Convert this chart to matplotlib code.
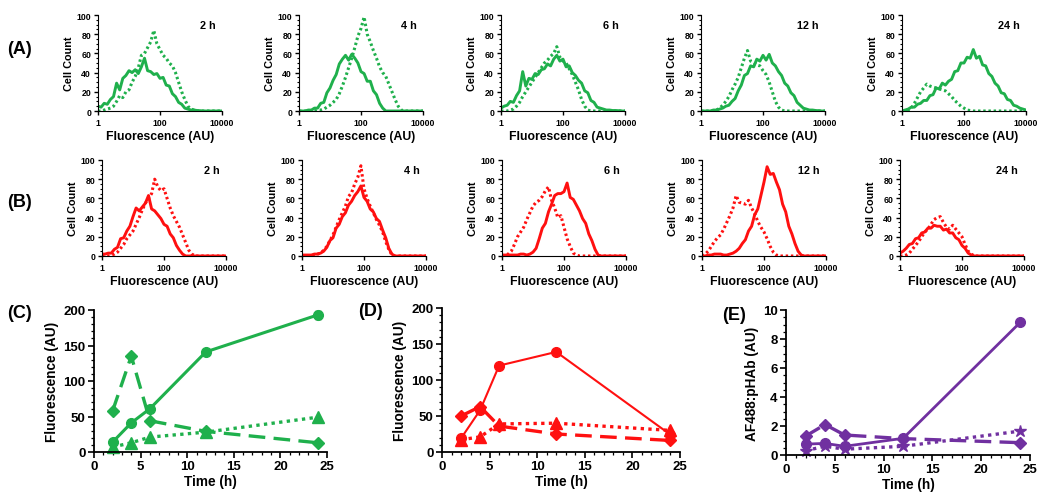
import numpy as np
import matplotlib
matplotlib.use("Agg")
import matplotlib.pyplot as plt
from matplotlib.ticker import MultipleLocator, LogLocator, NullFormatter, FixedLocator

plt.rcParams['font.family'] = ['Liberation Sans', 'DejaVu Sans']
plt.rcParams['font.weight'] = 'bold'
plt.rcParams['axes.labelweight'] = 'bold'

# histogram bins (log10 of fluorescence)
log_bins = [0.0, 0.1, 0.2, 0.3, 0.4, 0.5, 0.6, 0.7, 0.8, 0.9,
            1.0, 1.1, 1.2, 1.3, 1.4, 1.5, 1.6, 1.7, 1.8, 1.9,
            2.0, 2.1, 2.2, 2.3, 2.4, 2.5, 2.6, 2.7, 2.8, 2.9,
            3.0, 3.1, 3.2, 3.3, 3.4, 3.5, 3.6, 3.7, 3.8, 3.9,
            4.0]
time_labels = ["2 h", "4 h", "6 h", "12 h", "24 h"]

# (A) green histograms: solid and dotted
a_solid = [
    [5, 4, 8, 7, 12, 15, 29, 22, 34, 37,
     42, 40, 43, 39, 46, 55, 42, 41, 38, 39,
     34, 35, 27, 26, 18, 15, 9, 7, 3, 2,
     1, 1, 0.5, 0.3, 0, 0, 0, 0, 0, 0,
     0],
    [0, 0, 0, 1, 1, 3, 3, 8, 9, 19,
     24, 32, 38, 49, 54, 58, 53, 59, 55, 50,
     41, 39, 31, 31, 21, 17, 8, 3, 0, 0,
     0, 0, 0, 0, 0, 0, 0, 0, 0, 0,
     0],
    [3, 5, 6, 10, 9, 16, 21, 41, 26, 34,
     33, 39, 38, 43, 44, 49, 47, 54, 58, 52,
     54, 46, 47, 40, 37, 32, 29, 21, 19, 11,
     9, 4, 3, 2, 1, 1, 0.5, 0.5, 0.3, 0,
     0],
    [0, 0, 0, 0, 1, 1, 2, 3, 5, 6,
     10, 13, 21, 27, 37, 39, 47, 46, 54, 52,
     58, 53, 59, 50, 47, 41, 37, 29, 26, 19,
     16, 9, 6, 3, 2, 1, 1, 0.5, 0.3, 0,
     0],
    [0, 1, 2, 4, 4, 7, 8, 11, 11, 16,
     17, 24, 23, 29, 27, 31, 33, 41, 42, 50,
     50, 56, 55, 64, 55, 57, 48, 47, 39, 36,
     29, 26, 19, 18, 12, 11, 6, 5, 3, 2,
     1],
]
a_dotted = [
    [0, 0, 1, 2, 3, 5, 10, 16, 14, 20,
     22, 30, 36, 45, 58, 60, 66, 72, 84, 70,
     64, 58, 55, 50, 47, 40, 30, 20, 12, 5,
     2, 1, 0, 0, 0, 0, 0, 0, 0, 0,
     0],
    [0, 0, 0, 0, 0, 0, 1, 1, 2, 4,
     6, 9, 12, 18, 26, 35, 45, 55, 66, 78,
     86, 98, 80, 72, 63, 55, 46, 40, 36, 28,
     20, 12, 5, 1, 0, 0, 0, 0, 0, 0,
     0],
    [0, 0, 0, 1, 2, 5, 9, 15, 20, 25,
     30, 35, 40, 45, 50, 53, 57, 60, 67, 56,
     52, 50, 44, 38, 30, 22, 12, 5, 1, 0,
     0, 0, 0, 0, 0, 0, 0, 0, 0, 0,
     0],
    [0, 0, 0, 0, 0, 1, 3, 6, 10, 15,
     22, 28, 35, 45, 55, 63, 52, 50, 48, 47,
     42, 38, 30, 20, 10, 4, 1, 0, 0, 0,
     0, 0, 0, 0, 0, 0, 0, 0, 0, 0,
     0],
    [0, 0, 1, 3, 8, 14, 20, 24, 28, 26,
     25, 24, 23, 22, 21, 18, 15, 11, 8, 5,
     3, 1, 0.5, 0, 0, 0, 0, 0, 0, 0,
     0, 0, 0, 0, 0, 0, 0, 0, 0, 0,
     0],
]

# (B) red histograms: solid and dotted
b_solid = [
    [2, 2, 3, 3, 7, 9, 18, 19, 26, 31,
     41, 50, 47, 51, 55, 63, 49, 47, 43, 39,
     33, 31, 23, 19, 11, 6, 2, 0, 0, 0,
     0, 0, 0, 0, 0, 0, 0, 0, 0, 0,
     0],
    [1, 1, 1, 1, 2, 2, 3, 5, 9, 16,
     19, 29, 33, 41, 45, 53, 57, 63, 67, 73,
     61, 57, 49, 46, 39, 36, 27, 19, 8, 2,
     0, 0, 0, 0, 0, 0, 0, 0, 0, 0,
     0],
    [1, 1, 1, 1, 1, 1, 2, 2, 1, 2,
     4, 8, 18, 29, 34, 46, 54, 63, 65, 65,
     67, 76, 61, 59, 53, 47, 39, 34, 23, 16,
     7, 1, 0, 0, 0, 0, 0, 0, 0, 0,
     0],
    [0, 0, 1, 1, 2, 2, 2, 1, 1, 2,
     3, 5, 8, 13, 17, 26, 31, 43, 49, 63,
     77, 93, 85, 86, 77, 69, 54, 46, 31, 23,
     13, 5, 1, 0, 0, 0, 0, 0, 0, 0,
     0],
    [3, 5, 8, 12, 13, 18, 19, 24, 25, 29,
     29, 32, 31, 31, 27, 28, 24, 24, 19, 17,
     11, 8, 3, 1, 0, 0, 0, 0, 0, 0,
     0, 0, 0, 0, 0, 0, 0, 0, 0, 0,
     0],
]
b_dotted = [
    [0, 0, 0, 1, 2, 4, 8, 12, 18, 22,
     26, 33, 40, 48, 55, 60, 65, 80, 72, 68,
     70, 60, 50, 42, 36, 30, 22, 14, 6, 2,
     0, 0, 0, 0, 0, 0, 0, 0, 0, 0,
     0],
    [0, 0, 0, 0, 1, 2, 3, 6, 10, 16,
     22, 30, 38, 45, 52, 62, 66, 75, 82, 94,
     70, 60, 52, 45, 38, 32, 25, 15, 7, 1,
     0, 0, 0, 0, 0, 0, 0, 0, 0, 0,
     0],
    [0, 1, 2, 5, 12, 20, 25, 30, 38, 45,
     52, 56, 58, 62, 68, 72, 58, 50, 40, 42,
     30, 18, 10, 3, 1, 0, 0, 0, 0, 0,
     0, 0, 0, 0, 0, 0, 0, 0, 0, 0,
     0],
    [0, 2, 5, 10, 15, 19, 22, 28, 35, 42,
     50, 63, 56, 55, 54, 58, 50, 44, 36, 30,
     25, 18, 10, 4, 1, 0, 0, 0, 0, 0,
     0, 0, 0, 0, 0, 0, 0, 0, 0, 0,
     0],
    [0, 0, 1, 3, 7, 11, 15, 20, 25, 28,
     33, 38, 40, 41, 35, 30, 28, 32, 28, 24,
     20, 12, 5, 2, 0, 0, 0, 0, 0, 0,
     0, 0, 0, 0, 0, 0, 0, 0, 0, 0,
     0],
]

# time course data
hours = [2, 4, 6, 12, 24]
c_circle = [14, 41, 61, 141, 193]
c_circle_err = [2, 2, 3, 3, 6]
c_diamond = [58, 135, 44, 29, 13]
c_triangle = [7, 13, 21, 28, 49]
d_circle = [19, 58, 120, 139, 24]
d_diamond = [50, 63, 36, 25, 16]
d_triangle = [17, 21, 39, 40, 30]
e_circle = [0.75, 0.8, 0.6, 1.15, 9.15]
e_diamond = [1.3, 2.1, 1.38, 1.13, 0.85]
e_star = [0.3, 0.6, 0.4, 0.6, 1.65]

green = '#1FB04C'
red = '#FF1010'
purple = '#7030A0'

W, H = 1050, 502
fig = plt.figure(figsize=(W / 100, H / 100), dpi=100)


def fig_axes(left, top, width, height):
    return fig.add_axes([left / W, 1 - (top + height) / H, width / W, height / H])


def style_hist(ax, title):
    ax.set_xscale('log')
    ax.set_xlim(1, 10000)
    ax.set_ylim(0, 100)
    for s in ['top', 'right']:
        ax.spines[s].set_visible(False)
    ax.xaxis.set_major_locator(FixedLocator([1, 100, 10000]))
    ax.xaxis.set_minor_locator(LogLocator(base=10, subs=np.arange(2, 10)))
    ax.xaxis.set_minor_formatter(NullFormatter())
    ax.set_xticklabels(['1', '100', '10000'])
    ax.yaxis.set_major_locator(MultipleLocator(20))
    ax.yaxis.set_minor_locator(MultipleLocator(5))
    ax.tick_params(axis='both', which='major', labelsize=6.3, length=3, width=1, pad=2)
    ax.tick_params(axis='x', which='minor', direction='in', length=2.5, width=0.8)
    ax.tick_params(axis='y', which='minor', length=1.5, width=0.8)
    ax.set_xlabel('Fluorescence (AU)', fontsize=8.8, labelpad=2)
    ax.set_ylabel('Cell Count', fontsize=7.8, labelpad=2)
    ax.text(0.95, 0.9, title, transform=ax.transAxes, ha='right', va='center',
            fontsize=7.8, fontweight='bold')


x_hist = 10 ** np.array(log_bins)

a_lefts = [98, 299, 501, 701, 902]
b_lefts = [102, 302, 502, 702, 900]
for i in range(5):
    ax = fig_axes(a_lefts[i], 16, 124, 96)
    ax.plot(x_hist, a_solid[i], color=green, lw=2.1)
    ax.plot(x_hist, a_dotted[i], color=green, lw=2.2, linestyle=(0, (0.8, 0.9)))
    style_hist(ax, time_labels[i])

    ax = fig_axes(b_lefts[i], 161, 124, 96)
    ax.plot(x_hist, b_solid[i], color=red, lw=2.1)
    ax.plot(x_hist, b_dotted[i], color=red, lw=2.2, linestyle=(0, (0.8, 0.9)))
    style_hist(ax, time_labels[i])


def style_time(ax, ylim, ymaj, ymin, ylabel):
    ax.set_xlim(0, 25)
    ax.set_ylim(0, ylim)
    for s in ['top', 'right']:
        ax.spines[s].set_visible(False)
    for s in ['left', 'bottom']:
        ax.spines[s].set_linewidth(1.3)
    ax.xaxis.set_major_locator(MultipleLocator(5))
    ax.xaxis.set_minor_locator(MultipleLocator(1))
    ax.yaxis.set_major_locator(MultipleLocator(ymaj))
    ax.yaxis.set_minor_locator(MultipleLocator(ymin))
    ax.tick_params(axis='both', which='major', labelsize=9.5, length=4, width=1.2, pad=2)
    ax.tick_params(axis='both', which='minor', length=2, width=0.9)
    ax.set_xlabel('Time (h)', fontsize=9.8, labelpad=1)
    ax.set_ylabel(ylabel, fontsize=9.8, labelpad=3)


# (C)
ax = fig_axes(94, 311, 233, 142)
ax.plot(hours, c_diamond, color=green, lw=2.4, linestyle=(0, (5, 2.5)),
        marker='D', ms=6.5, clip_on=False)
ax.plot(hours, c_triangle, color=green, lw=2.4, linestyle=(0, (1, 1.3)),
        marker='^', ms=8, clip_on=False)
ax.errorbar(hours, c_circle, yerr=c_circle_err, color=green, lw=2.2,
            marker='o', ms=7, ecolor='#333333', elinewidth=1, capsize=2, clip_on=False)
style_time(ax, 200, 50, 10, 'Fluorescence (AU)')

# (D)
ax = fig_axes(442, 309, 238, 144)
ax.plot(hours, d_diamond, color=red, lw=2.4, linestyle=(0, (5, 2.5)),
        marker='D', ms=6.5, clip_on=False)
ax.plot(hours, d_triangle, color=red, lw=2.4, linestyle=(0, (1, 1.3)),
        marker='^', ms=8, clip_on=False)
ax.plot(hours, d_circle, color=red, lw=1.5, marker='o', ms=7, clip_on=False)
style_time(ax, 200, 50, 10, 'Fluorescence (AU)')

# (E)
ax = fig_axes(786, 311, 244, 145)
ax.plot(hours, e_diamond, color=purple, lw=2.4, linestyle=(0, (5, 2.5)),
        marker='D', ms=6.5, clip_on=False)
ax.plot(hours, e_star, color=purple, lw=2.4, linestyle=(0, (1, 1.3)),
        marker='*', ms=9, clip_on=False)
ax.plot(hours, e_circle, color=purple, lw=2, marker='o', ms=7, clip_on=False)
style_time(ax, 10, 2, 0.5, 'AF488:pHAb (AU)')

# panel letters
for label, px, py in [('(A)', 7, 50), ('(B)', 7, 203), ('(C)', 7, 313),
                      ('(D)', 358, 312), ('(E)', 722, 315)]:
    fig.text(px / W, 1 - py / H, label, ha='left', va='center',
             fontsize=13, fontweight='bold')

fig.savefig('out.png', dpi=100)
